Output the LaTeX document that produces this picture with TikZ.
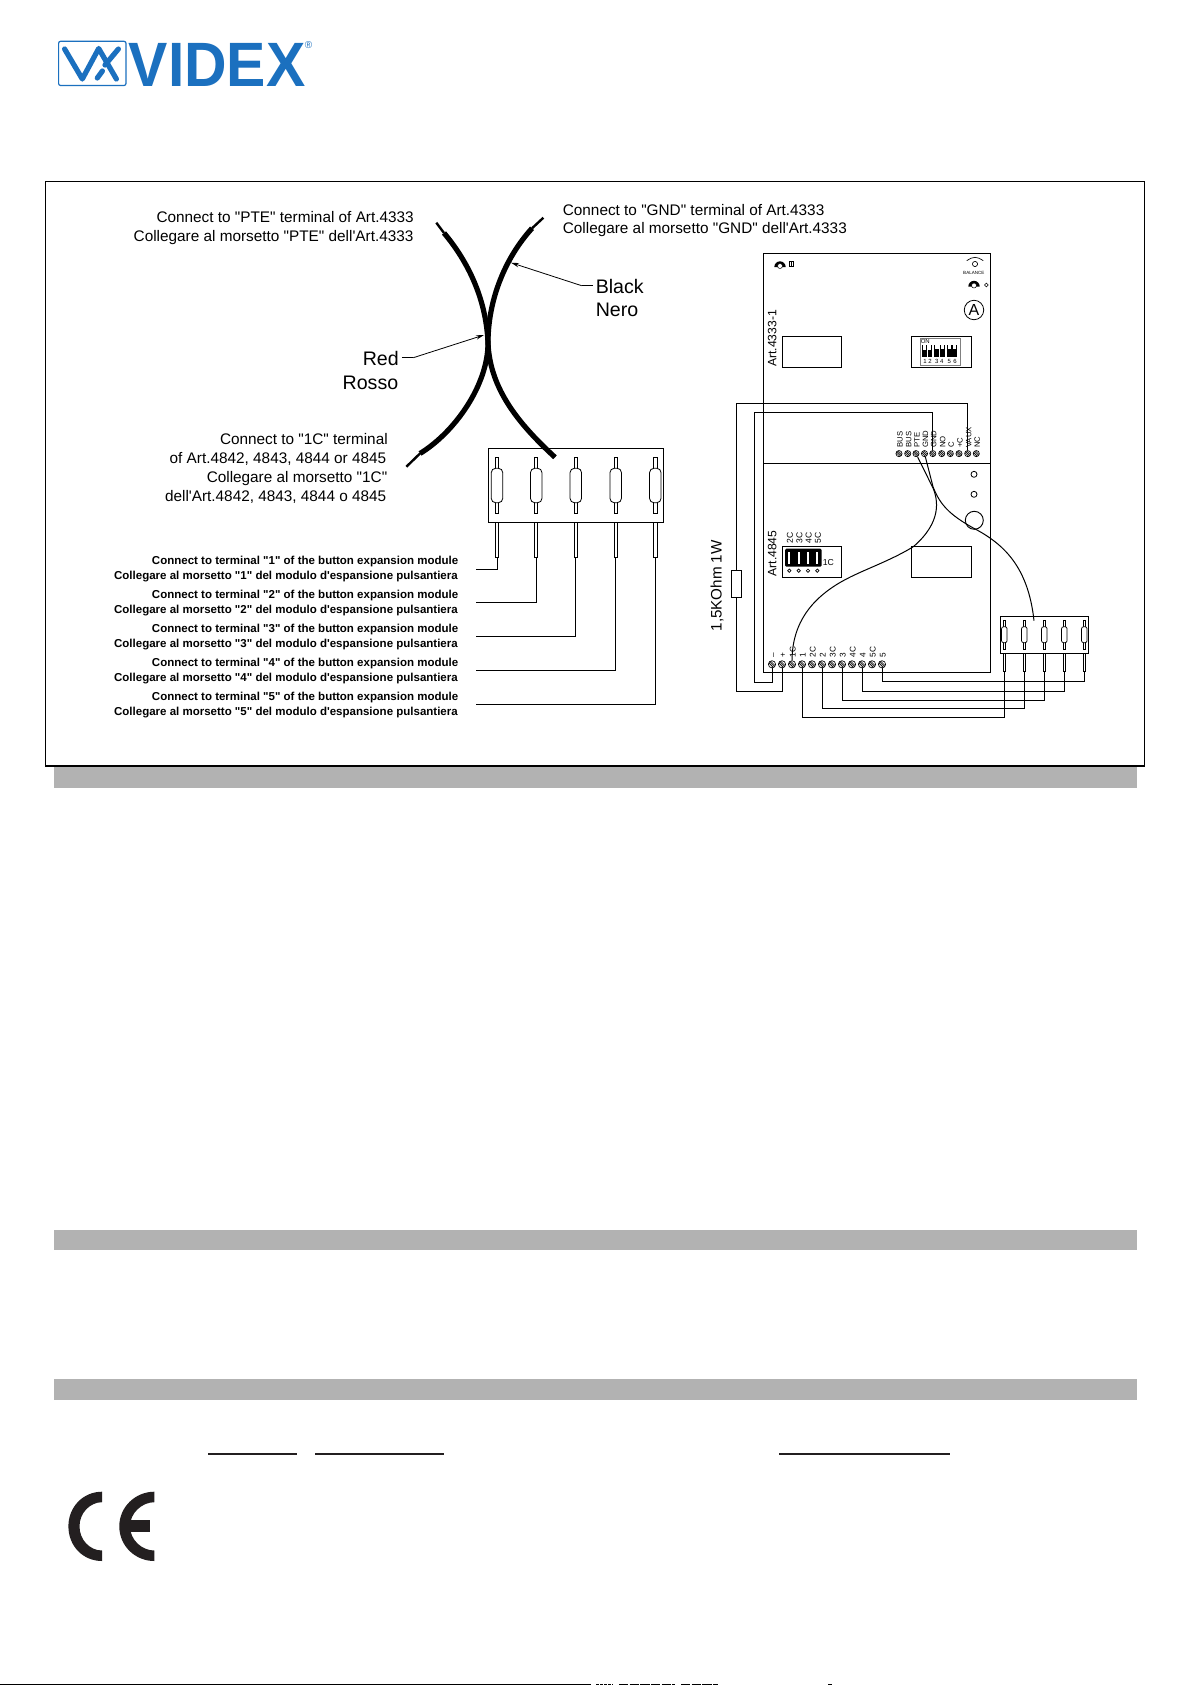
\documentclass[tikz,border=0pt]{standalone}
\usepackage{fontspec}
\usepackage{graphicx}
\newfontfamily\lsans{Liberation Sans}
\usetikzlibrary{arrows.meta}
\definecolor{videx}{HTML}{1B70BF}
\definecolor{bargrey}{HTML}{B2B2B2}
\definecolor{ceblack}{HTML}{231F20}
\newcommand{\fs}[1]{\lsans\fontsize{#1}{#1}\selectfont}
\tikzset{
  wire/.style={draw=black,line width=0.75pt},
  lbl/.style={inner sep=0pt,anchor=mid east,font=\fs{11.5}},
  lblw/.style={inner sep=0pt,anchor=mid west,font=\fs{11.5}},
  biglbl/.style={inner sep=0pt,font=\fs{14.7}},
  boldcap/.style={inner sep=0pt,anchor=mid east,font=\fs{8.63}\bfseries},
  rotlbl/.style={inner sep=0pt,rotate=90,anchor=mid west},
  box/.style={draw=black,line width=0.8pt,inner sep=0pt,outer sep=0pt,anchor=north west},
  term/.style={circle,draw,line width=0.5pt,inner sep=0pt,minimum size=5.4pt,
    path picture={
      \draw[line width=0.45pt] (path picture bounding box.north west) -- (path picture bounding box.south east);
      \draw[line width=0.45pt] ([xshift=1.4pt]path picture bounding box.north west) -- ([yshift=1.4pt]path picture bounding box.south east);
      \draw[line width=0.45pt] ([yshift=-1.4pt]path picture bounding box.north west) -- ([xshift=-1.4pt]path picture bounding box.south east);
    }},
  termsm/.style={term,minimum size=4.6pt},
  capsule/.style={draw,fill=white,line width=0.6pt,inner sep=0pt,rounded corners=3.2pt,minimum width=8.6pt,minimum height=25.8pt},
  capsulesm/.style={draw,fill=white,line width=0.55pt,inner sep=0pt,rounded corners=1.6pt,minimum width=4.2pt,minimum height=12pt},
  arrowline/.style={draw=black,line width=0.6pt,-{Stealth[length=6pt,width=3.2pt]}},
  thinline/.style={draw=black,line width=0.6pt},
  cable/.style={draw=black,line width=3.9pt},
  cabletail/.style={draw=black,line width=1.8pt},
  bar/.style={fill=bargrey},
  boardbox/.style={draw=black,line width=0.85pt,fill=white}
}
\begin{document}
\begin{tikzpicture}[x=0.75pt,y=-0.75pt]
\useasboundingbox (0,0) rectangle (1191,1685);
\fill[white] (0,0) rectangle (1191,1685);

% ---------- logo
\draw[videx,line width=0.9pt,rounded corners=1.5pt] (58.6,41.3) rectangle (126,85.5);
\draw[videx,line width=3.9pt,line cap=round,line join=round] (64.6,49) -- (82.3,79) -- (98.7,48.5) -- (116.4,79);
\draw[videx,line width=3.9pt,line cap=round] (118.4,49) -- (105,65);
\draw[videx,line width=3.9pt,line cap=round] (102.4,71) -- (97.3,78);
\node[inner sep=0pt,anchor=base west,text=videx,font=\fs{47}\bfseries] (logo) at (128.5,86) {\scalebox{0.94}[1]{VIDEX}};
\node[inner sep=0pt,text=videx,font=\fs{7.5}] (logoreg) at (308.5,45.5) {®};

% ---------- frame
\node[box,minimum width=824.25pt,minimum height=438.2pt] (frame) at (45.3,181.7) {};
\fill[bar] (54,767) rectangle (1137,788);
\fill[bar] (54,1230) rectangle (1137,1250);
\fill[bar] (54,1379) rectangle (1137,1400);

% ---------- cables
\coordinate (rt) at (436.3,222.7);
\coordinate (rb) at (406.4,466.7);
\coordinate (kt) at (543.4,217.7);
\coordinate (kb) at (555,457.3);
\coordinate (mid) at (488,343);
\draw[cabletail] (rt) -- (444,233);
\draw[cable] (444,233) .. controls (465,258) and (486,295) .. (mid) .. controls (488,385) and (455,432) .. (420,453.5);
\draw[cabletail] (420,453.5) -- (rb);
\draw[cabletail] (kt) -- (532,228.3);
\draw[cable] (532,228.3) .. controls (505,258) and (488,300) .. (mid) .. controls (490,390) and (520,425) .. (kb);

% ---------- cable labels
\node[lbl] (t1) at (414,220) {Connect to "PTE" terminal of Art.4333};
\node[lbl] (t2) at (413.7,238.5) {Collegare al morsetto "PTE" dell'Art.4333};
\node[lblw] (t3) at (562.6,212.5) {Connect to "GND" terminal of Art.4333};
\node[lblw] (t4) at (562.6,231) {Collegare al morsetto "GND" dell'Art.4333};
\node[biglbl,anchor=mid east] (red) at (399,362.3) {Red};
\node[biglbl,anchor=mid east] (rosso) at (398.5,386.3) {Rosso};
\node[biglbl,anchor=mid west] (black) at (595.5,290.3) {Black};
\node[biglbl,anchor=mid west] (nero) at (595.5,314) {Nero};
\coordinate (red0) at (401.8,357.7);
\coordinate (redk) at (413.3,357.7);
\coordinate (redp) at (484,335);
\coordinate (bl0) at (593,285.7);
\coordinate (blk) at (581.7,285.7);
\coordinate (blp) at (511,262.7);
\draw[thinline] (red0) -- (redk);
\draw[arrowline] (redk) -- (redp);
\draw[thinline] (bl0) -- (blk);
\draw[arrowline] (blk) -- (blp);
\node[lbl] (c1) at (388,441.6) {Connect to "1C" terminal};
\node[lbl] (c2) at (386.5,460.6) {of Art.4842, 4843, 4844 or 4845};
\node[lbl] (c3) at (387.5,479.8) {Collegare al morsetto "1C"};
\node[lbl] (c4) at (386.5,498.6) {dell'Art.4842, 4843, 4844 o 4845};

% ---------- large connector
\node[box,minimum width=131.5pt,minimum height=55.5pt] (bigbox) at (488.5,448.3) {};
\foreach \i/\xx in {1/497,2/536.2,3/575.8,4/615.7,5/655.3}{
  \draw[line width=0.55pt,fill=white] (\xx-1.6,457.3) rectangle (\xx+1.6,513.3);
  \node[capsule] (bigc\i) at (\xx,485.5) {};
  \draw[line width=0.55pt,fill=white] (\xx-1.6,522.3) rectangle (\xx+1.6,557.3);
  \coordinate (bigp\i) at (\xx,557.3);
}
\coordinate (e1) at (476.3,569.3);
\coordinate (e2) at (476.3,602.3);
\coordinate (e3) at (476.3,636.3);
\coordinate (e4) at (476.3,670.3);
\coordinate (e5) at (476.3,704.3);
\foreach \i in {1,...,5}{ \draw[wire] (bigp\i) |- (e\i); }
\node[boldcap] (b1a) at (458.5,562.1) {Connect to terminal "1" of the button expansion module};
\node[boldcap] (b1b) at (458,576.9) {Collegare al morsetto "1" del modulo d'espansione pulsantiera};
\node[boldcap] (b2a) at (458.5,596.1) {Connect to terminal "2" of the button expansion module};
\node[boldcap] (b2b) at (458,610.6) {Collegare al morsetto "2" del modulo d'espansione pulsantiera};
\node[boldcap] (b3a) at (458.5,630.1) {Connect to terminal "3" of the button expansion module};
\node[boldcap] (b3b) at (458,644.6) {Collegare al morsetto "3" del modulo d'espansione pulsantiera};
\node[boldcap] (b4a) at (458.5,664.1) {Connect to terminal "4" of the button expansion module};
\node[boldcap] (b4b) at (458,678.6) {Collegare al morsetto "4" del modulo d'espansione pulsantiera};
\node[boldcap] (b5a) at (458.5,697.8) {Connect to terminal "5" of the button expansion module};
\node[boldcap] (b5b) at (458,712.6) {Collegare al morsetto "5" del modulo d'espansione pulsantiera};

% ---------- boards
\draw[boardbox] (763.3,253.3) rectangle (990.3,672.3);
\draw[draw=black,line width=0.85pt] (763.3,463.3) -- (990.3,463.3);
\node[box,minimum width=44.5pt,minimum height=23.5pt] (rectA) at (782.3,336.3) {};
\node[box,minimum width=45.3pt,minimum height=23pt] (rectB) at (911.3,336.5) {};
\node[box,minimum width=44.5pt,minimum height=23.2pt] (rectC) at (782.3,546.3) {};
\node[box,minimum width=45.3pt,minimum height=23.2pt] (rectD) at (911.3,546.3) {};
\node[rotlbl,font=\fs{9.1}] (art1) at (773.5,367) {Art.4333-1};
\node[rotlbl,font=\fs{9.1}] (art2) at (773.5,576.7) {Art.4845};

% DIP switch
\draw[gray,line width=0.3pt] (920,338.3) rectangle (960,365);
\node[inner sep=0pt,font=\fs{4.5}] (on) at (925.3,341) {ON};
\foreach \a/\b/\w in {922.3/926.7/350.3,927.5/931.7/350.3,934.3/939.3/349,940/945/349,946.7/951.7/349,952/956.7/349}{
  \fill (\a,344.5) rectangle (\b,357);
  \fill[white] (\a+0.8,345.4) rectangle (\b-0.8,\w);
}
\foreach \n/\xx in {1/925,2/930,3/936.7,4/941.7,5/949.3,6/955}{
  \node[inner sep=0pt,font=\fs{4.5}] (dipn\n) at (\xx,361) {\n};
}

% jumper
\fill[black,rounded corners=1pt] (785,548.7) rectangle (821.7,566.7);
\foreach \n/\xx in {2/789.3,3/798.7,4/808,5/817.3}{
  \fill[white] (\xx-1,552) rectangle (\xx+1,563.5);
  \draw[line width=0.5pt] (\xx,570.7) circle (1.7);
  \node[rotlbl,font=\fs{6.4}] (jp\n) at (\xx+0.8,543.9) {\n C};
}
\node[inner sep=0pt,font=\fs{6.5},anchor=mid west] (j1c) at (822.5,562.5) {1C};

% knobs & marks
\fill (774.3,267) arc (180:360:5.7);
\draw[fill=white,line width=0.4pt] (780,266) circle (2.5);
\draw[line width=0.4pt] (789.6,261) rectangle (793.4,266.5);
\draw[line width=0.4pt] (791.5,261) -- (791.5,266.5);
\draw[line width=0.5pt] (975,264) circle (2.6);
\draw[line width=0.5pt] (966.7,260.7) .. controls (970,258.7) and (972,257.3) .. (975,257.3) .. controls (978,257.3) and (980,258.7) .. (983.3,260.7);
\node[inner sep=0pt,font=\fs{3.4}] (bal) at (973.8,272.7) {BALANCE};
\fill (968.3,286.5) arc (180:360:5.7);
\draw[fill=white,line width=0.4pt] (974,285.5) circle (2.5);
\draw[line width=0.4pt] (986.3,285) circle (1.9);
\node[draw,circle,line width=0.6pt,inner sep=0pt,minimum size=14.6pt,font=\fs{12}] (circA) at (974,310) {A};
\draw[line width=0.6pt] (974,474.3) circle (3);
\draw[line width=0.6pt] (974,494.3) circle (3);
\draw[line width=0.7pt] (974.3,520.3) circle (9);

% terminals top
\foreach \i/\xx/\tt in {1/899/BUS,2/907.7/BUS,3/916/PTE,4/924.5/GND,5/932.8/GND,6/941.7/NO,7/950.3/C,8/959/+C,9/967.7/VAUX,10/976.3/NC}{
  \node[termsm] (T\i) at (\xx,453.6) {};
  \node[rotlbl,font=\fs{5.8}] (TL\i) at (\xx+0.7,448) {\tt};
}
% terminals bottom
\foreach \i/\xx/\tt in {1/772/–,2/782/+,3/792/1C,4/802/1,5/812/2C,6/822/2,7/832/3C,8/842/3,9/852/4C,10/862/4,11/872/5C,12/882/5}{
  \node[term] (B\i) at (\xx,664.3) {};
  \node[rotlbl,font=\fs{6.2}] (BL\i) at (\xx+0.7,657.7) {\tt};
}

% external wiring and resistor
\coordinate (ca) at (736.3,403.3);
\coordinate (cb) at (736.3,691);
\coordinate (cc) at (754.3,412.3);
\coordinate (cd) at (754.3,682.3);
\draw[wire] (T9) |- (ca) -- (cb) -| (B2);
\draw[wire] (T5) |- (cc) -- (cd) -| (B1);
\node[draw=black,fill=white,line width=0.7pt,inner sep=0pt,minimum width=7pt,minimum height=20.2pt] (res) at (736.3,583.8) {};
\node[rotlbl,font=\fs{11.4}] (reslbl) at (718.7,631.7) {1,5KOhm 1W};

% curved wires
\coordinate (gndend) at (1034,620.7);
\draw[wire] (T3) -- (933,488) .. controls (938,500) and (942,522) .. (913.3,546.7) .. controls (885,564) and (855,572) .. (833.3,586.7) .. controls (815,599) and (792.3,620) .. (B3.north);
\draw[wire] (T4) -- (933,486.7) .. controls (940,505) and (950,515) .. (973.3,528) .. controls (1002,543) and (1028,565) .. (gndend);

% small connector
\node[box,line width=0.75pt,minimum width=66pt,minimum height=27.8pt] (smbox) at (1000.3,616.3) {};
\foreach \i/\xx in {1/1004.3,2/1024.3,3/1044.3,4/1064.3,5/1084.3}{
  \draw[line width=0.5pt,fill=white] (\xx-1,620.3) rectangle (\xx+1,649.3);
  \node[capsulesm] (smc\i) at (\xx,634.7) {};
  \draw[line width=0.5pt,fill=white] (\xx-1,653.3) rectangle (\xx+1,671.3);
  \coordinate (smp\i) at (\xx,671.3);
}
\coordinate (r1) at (802,717.3);
\coordinate (r2) at (822,708.3);
\coordinate (r3) at (842,700);
\coordinate (r4) at (862,691.3);
\coordinate (r5) at (882,681.3);
\draw[wire] (B4) |- (smp1 |- r1) -- (smp1);
\draw[wire] (B6) |- (smp2 |- r2) -- (smp2);
\draw[wire] (B8) |- (smp3 |- r3) -- (smp3);
\draw[wire] (B10) |- (smp4 |- r4) -- (smp4);
\draw[wire] (B12) |- (smp5 |- r5) -- (smp5);

% ---------- underlines
\draw[draw=ceblack,line width=1.5pt] (208,1453.7) -- (297,1453.7);
\draw[draw=ceblack,line width=1.5pt] (315,1453.7) -- (444,1453.7);
\draw[draw=ceblack,line width=1.5pt] (779,1453.7) -- (950,1453.7);

% ---------- CE mark
\fill[ceblack] (102,1491.7) .. controls (83,1491.7) and (68.4,1507) .. (68.4,1526.3) .. controls (68.4,1546) and (83,1561) .. (102,1561) -- (102,1550.5) .. controls (90,1550.5) and (79.5,1540) .. (79.5,1526.3) .. controls (79.5,1513) and (90,1502.2) .. (102,1502.2) -- cycle;
\fill[ceblack] (154.3,1491.7) .. controls (135.3,1491.7) and (119.3,1507) .. (119.3,1526.3) .. controls (119.3,1546) and (135.3,1561) .. (154.3,1561) -- (154.3,1550.5) .. controls (142,1550.5) and (130,1540) .. (130,1526.3) .. controls (130,1513) and (142,1502.2) .. (154.3,1502.2) -- cycle;
\fill[ceblack] (125,1520.3) rectangle (149.7,1532);

% ---------- page bottom edge
\draw[line width=1pt] (0,1684.3) -- (591,1684.3);
\draw[line width=1pt,dash pattern=on 2pt off 1pt] (596,1684.3) -- (613,1684.3);
\draw[line width=1pt,dash pattern=on 7pt off 1pt] (619,1684.3) -- (675,1684.3);
\draw[line width=1pt,dash pattern=on 7pt off 1pt] (681,1684.3) -- (718,1684.3);
\draw[line width=1pt] (828,1684.3) -- (832,1684.3);
\end{tikzpicture}
\end{document}
